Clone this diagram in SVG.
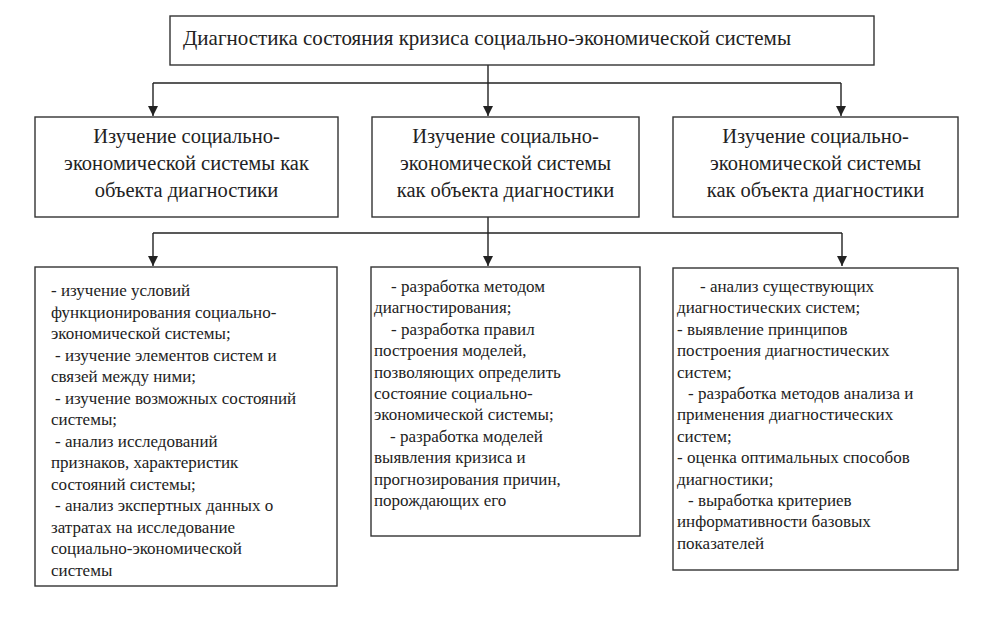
<svg xmlns="http://www.w3.org/2000/svg" width="986" height="624" viewBox="0 0 986 624">
<defs>
<marker id="ah" viewBox="0 0 10 10" refX="10" refY="5" markerWidth="10" markerHeight="10" markerUnits="userSpaceOnUse" orient="auto">
<path d="M0,0 L10,5 L0,10 z" fill="#222"/>
</marker>
</defs>
<rect width="986" height="624" fill="#fff"/>
<g id="connectors" fill="none" stroke="#222" stroke-width="1.4">
<line x1="488" y1="65" x2="488" y2="116" marker-end="url(#ah)"/>
<line x1="153" y1="83" x2="841" y2="83"/>
<line x1="153" y1="83" x2="153" y2="116" marker-end="url(#ah)"/>
<line x1="841" y1="83" x2="841" y2="116" marker-end="url(#ah)"/>
<line x1="488" y1="217" x2="488" y2="266" marker-end="url(#ah)"/>
<line x1="153" y1="233" x2="842" y2="233"/>
<line x1="153" y1="233" x2="153" y2="266" marker-end="url(#ah)"/>
<line x1="842" y1="233" x2="842" y2="266" marker-end="url(#ah)"/>
</g>
<g id="root" font-family="Liberation Serif" fill="#222">
<rect x="170" y="16" width="704" height="49" fill="#fff" stroke="#333" stroke-width="1.4"/>
<text x="183" y="45" font-size="21">Диагностика состояния кризиса социально-экономической системы</text>
</g>
<g id="study1" font-family="Liberation Serif" font-size="20.5" fill="#222" text-anchor="middle">
<rect x="35" y="117" width="303" height="100" fill="#fff" stroke="#333" stroke-width="1.4"/>
<text x="186.5" y="143">Изучение социально-</text>
<text x="186.5" y="170">экономической системы как</text>
<text x="186.5" y="197">объекта диагностики</text>
</g>
<g id="study2" font-family="Liberation Serif" font-size="20.5" fill="#222" text-anchor="middle">
<rect x="372" y="117" width="267" height="100" fill="#fff" stroke="#333" stroke-width="1.4"/>
<text x="505.5" y="143">Изучение социально-</text>
<text x="505.5" y="170">экономической системы</text>
<text x="505.5" y="197">как объекта диагностики</text>
</g>
<g id="study3" font-family="Liberation Serif" font-size="20.5" fill="#222" text-anchor="middle">
<rect x="673" y="117" width="285" height="100" fill="#fff" stroke="#333" stroke-width="1.4"/>
<text x="815.5" y="143">Изучение социально-</text>
<text x="815.5" y="170">экономической системы</text>
<text x="815.5" y="197">как объекта диагностики</text>
</g>
<g id="list1" font-family="Liberation Serif" font-size="17" fill="#222">
<rect x="35" y="267" width="302" height="319" fill="#fff" stroke="#333" stroke-width="1.4"/>
<text x="51" y="296">- изучение условий</text>
<text x="51" y="317.5">функционирования социально-</text>
<text x="51" y="339">экономической системы;</text>
<text x="55" y="360.5">- изучение элементов систем и</text>
<text x="51" y="382">связей между ними;</text>
<text x="55" y="403.5">- изучение возможных состояний</text>
<text x="51" y="425">системы;</text>
<text x="55" y="446.5">- анализ исследований</text>
<text x="51" y="468">признаков, характеристик</text>
<text x="51" y="489.5">состояний системы;</text>
<text x="55" y="511">- анализ экспертных данных о</text>
<text x="51" y="532.5">затратах на исследование</text>
<text x="51" y="554">социально-экономической</text>
<text x="51" y="575.5">системы</text>
</g>
<g id="list2" font-family="Liberation Serif" font-size="17" fill="#222">
<rect x="371" y="267" width="269" height="269" fill="#fff" stroke="#333" stroke-width="1.4"/>
<text x="391" y="292">- разработка методом</text>
<text x="374" y="313.4">диагностирования;</text>
<text x="391" y="334.8">- разработка правил</text>
<text x="374" y="356.2">построения моделей,</text>
<text x="374" y="377.6">позволяющих определить</text>
<text x="374" y="399">состояние социально-</text>
<text x="374" y="420.4">экономической системы;</text>
<text x="390" y="441.8">- разработка моделей</text>
<text x="374" y="463.2">выявления кризиса и</text>
<text x="374" y="484.6">прогнозирования причин,</text>
<text x="374" y="506">порождающих его</text>
</g>
<g id="list3" font-family="Liberation Serif" font-size="17" fill="#222">
<rect x="673" y="268" width="285" height="302" fill="#fff" stroke="#333" stroke-width="1.4"/>
<text x="700" y="292">- анализ существующих</text>
<text x="677" y="313.4">диагностических систем;</text>
<text x="677" y="334.8">- выявление принципов</text>
<text x="677" y="356.2">построения диагностических</text>
<text x="677" y="377.6">систем;</text>
<text x="688" y="399">- разработка методов анализа и</text>
<text x="677" y="420.4">применения диагностических</text>
<text x="677" y="441.8">систем;</text>
<text x="677" y="463.2">- оценка оптимальных способов</text>
<text x="677" y="484.6">диагностики;</text>
<text x="688" y="506">- выработка критериев</text>
<text x="677" y="527.4">информативности базовых</text>
<text x="677" y="548.8">показателей</text>
</g>
</svg>
